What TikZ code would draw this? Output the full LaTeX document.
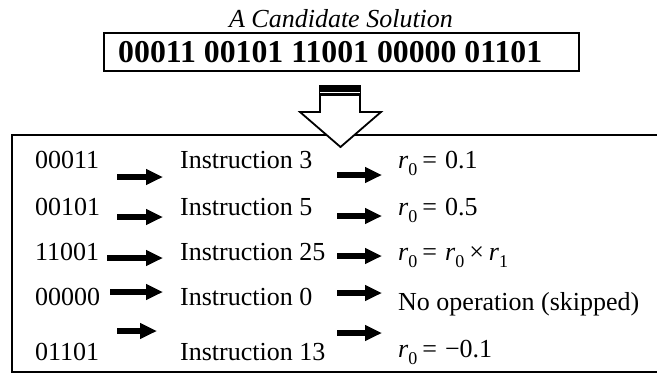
\documentclass[tikz,border=0pt]{standalone}
\usepackage{fontspec}
\setmainfont{Liberation Serif}
\usetikzlibrary{arrows.meta}
\newcommand{\rz}[1]{\textit{r}\raisebox{-0.3em}{\fontsize{18}{20}\selectfont #1}}
\newcommand{\eqs}{\hspace{5pt}=\hspace{8pt}}
\tikzset{
  txt/.style={anchor=base west, inner sep=0pt, font=\fontsize{26}{30}\selectfont},
  fatarrow/.style={line width=5.5pt, -{Triangle[length=17pt,width=15pt]}},
  frame/.style={draw, line width=2pt},
}
\begin{document}
\begin{tikzpicture}[x=1pt,y=-1pt]
\useasboundingbox (0,0) rectangle (657,373);
% candidate solution
\node[anchor=base, inner sep=0pt, font=\fontsize{26}{30}\selectfont\itshape] (title) at (341,27) {A Candidate Solution};
\draw[frame] (104,33) rectangle (579,71);
\node[anchor=base west, inner sep=0pt, font=\fontsize{31.8}{36}\selectfont\bfseries] (genome) at (118,62) {00011 00101 11001 00000 01101};
% decoding
\draw[frame] (12,135) rectangle (662,372);
\draw[line width=1.8pt, fill=white] (320,86) -- (360,86) -- (360,112) -- (381,112) -- (340.5,147) -- (300,112) -- (320,112) -- cycle;
\fill (319,85) rectangle (361,95.5);
\draw[white, line width=0.8pt] (320,92) -- (360,92);
\foreach \n/\code/\instr/\op/\yb/\yo/\xs/\xe/\ya/\yr in {
  1/00011/{Instruction 3}/{\rz{0}\eqs 0.1}/168/168/117/163/177/175,
  2/00101/{Instruction 5}/{\rz{0}\eqs 0.5}/215/215/117/163/217/216,
  3/11001/{Instruction 25}/{\rz{0}\eqs\rz{0}\hspace{5pt}×\hspace{5pt}\rz{1}}/260/260/107/163/258/256,
  4/00000/{Instruction 0}/{No operation (skipped)}/305/310/110/163/292/293,
  5/01101/{Instruction 13}/{\rz{0}\eqs −0.1}/360/357/117/157/331/333}{
  \node[txt] (code\n) at (35,\yb) {\code};
  \node[txt] (instr\n) at (180,\yb) {\instr};
  \node[txt] (op\n) at (398,\yo) {\op};
  \coordinate (la\n) at (\xs,\ya);
  \coordinate (lb\n) at (\xe,\ya);
  \coordinate (ra\n) at (337,\yr);
  \coordinate (rb\n) at (382,\yr);
  \draw[fatarrow] (la\n) -- (lb\n);
  \draw[fatarrow] (ra\n) -- (rb\n);
}
\end{tikzpicture}
\end{document}
